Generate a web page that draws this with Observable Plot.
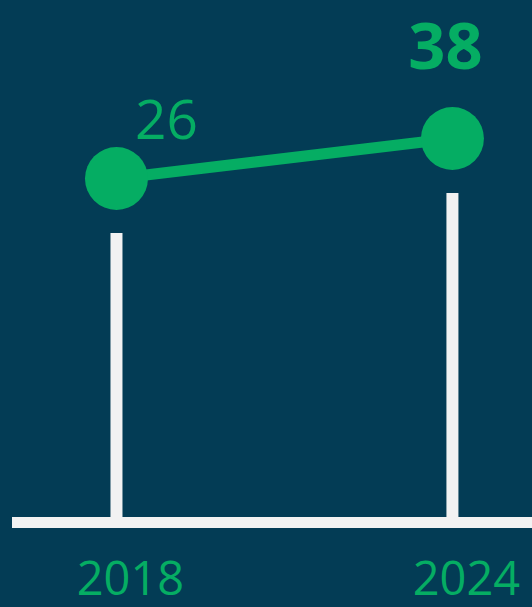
<!DOCTYPE html>
<html>
<head>
<meta charset="utf-8">
<script src="https://cdn.jsdelivr.net/npm/d3@7"></script>
<script src="https://cdn.jsdelivr.net/npm/@observablehq/plot@0.6"></script>
<style>
  html, body { margin: 0; padding: 0; background: #033c55; }
  #chart { width: 532px; height: 607px; overflow: hidden; }
</style>
</head>
<body>
<div id="chart"></div>
<script>
// Data
const years = [2018, 2024];
const values = [26, 38];
const labels = ["26", "38"];

const data = years.map((year, i) => ({year, value: values[i], label: labels[i]}));

const bg = "#033c55";
const green = "#05ad63";
const white = "#f2f2f2";

const yMin = -77.2;   // baseline level of the scale
const stemGap = 16.5; // gap between dot and stem top (in data units)

const chart = Plot.plot({
  width: 532,
  height: 607,
  marginLeft: 12,
  marginRight: 0,
  marginTop: 0,
  marginBottom: 85,
  style: {background: bg, fontFamily: "Open Sans, sans-serif", overflow: "visible"},
  x: {type: "linear", domain: [2016.143, 2025.43], axis: null},
  y: {domain: [yMin, 79.4], axis: null},
  marks: [
    Plot.ruleX(data, {x: "year", y1: () => yMin, y2: d => d.value - stemGap, stroke: white, strokeWidth: 12}),
    Plot.ruleY([yMin], {stroke: white, strokeWidth: 11}),
    Plot.line(data, {x: "year", y: "value", stroke: green, strokeWidth: 11}),
    Plot.dot(data, {x: "year", y: "value", r: 31.5, fill: green, stroke: "none"}),
    Plot.text(data.filter(d => d.year === 2018), {x: "year", y: "value", text: "label", fill: green, fontSize: 55, dx: 50, dy: -57}),
    Plot.text(data.filter(d => d.year === 2024), {x: "year", y: "value", text: "label", fill: green, fontSize: 65, fontWeight: "bold", dx: -7, dy: -90}),
    Plot.text(years, {x: d => d, text: d => String(d), frameAnchor: "bottom", lineAnchor: "middle", fill: green, fontSize: 47, dx: 14, dy: 57})
  ]
});

document.getElementById("chart").appendChild(chart);
</script>
</body>
</html>
